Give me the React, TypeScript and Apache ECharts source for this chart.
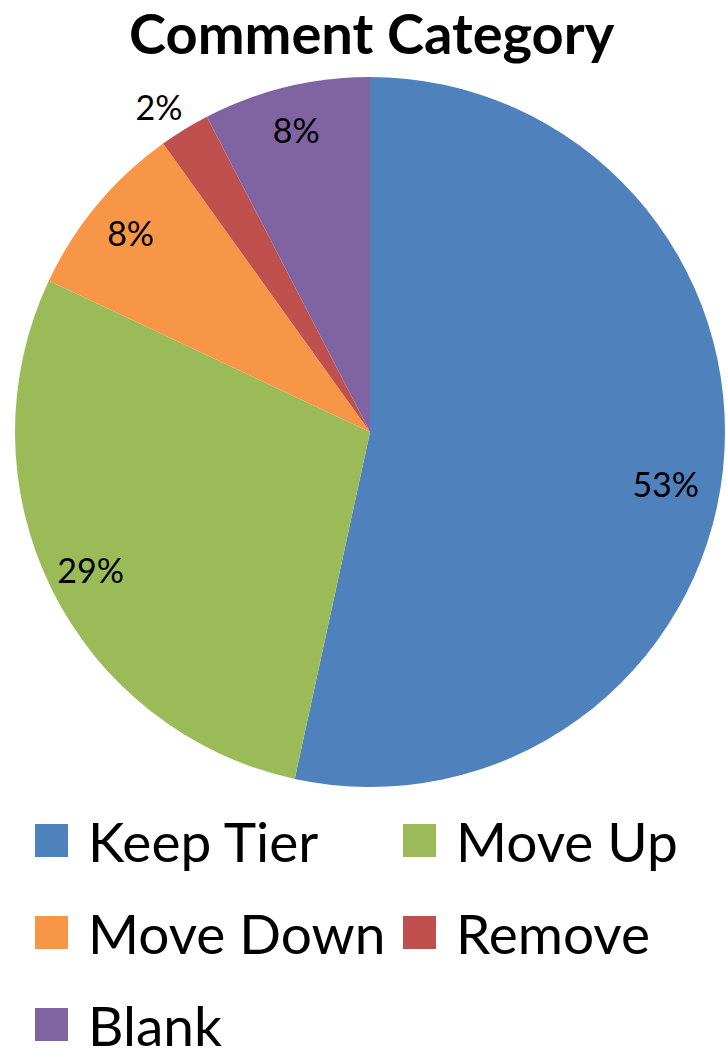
import React, { useEffect, useRef } from "react";
import * as echarts from "echarts";

const categories = ["Keep Tier", "Move Up", "Move Down", "Remove", "Blank"];
const shares = [53.4, 28.6, 8.1, 2.3, 7.6];
const colors = ["#4F81BD", "#9BBB59", "#F79646", "#C0504D", "#8064A2"];
const legendLeft = ["Keep Tier", "Move Down", "Blank"];
const legendRight = ["Move Up", "Remove"];
const outsideLabels = ["Remove"];

const FONT = "Lato";

export default function App() {
  const ref = useRef<HTMLDivElement>(null);
  useEffect(() => {
    document.body.style.margin = "0";
    const chart = echarts.init(ref.current!, null, { renderer: "svg" });
    const mainData = categories.map((name, i) => ({
      name,
      value: shares[i],
      itemStyle: { color: colors[i] },
    }));
    const labelData = categories.map((name, i) => {
      const outside = outsideLabels.includes(name);
      return {
        name,
        value: shares[i],
        label: outside
          ? { position: "outside", distanceToLabelLine: -12 }
          : { position: "inside" },
        labelLine: { show: false, length: 27, length2: 0 },
      };
    });
    const legendCommon = {
      orient: "vertical",
      top: 813,
      height: 400,
      padding: 0,
      itemWidth: 33,
      itemHeight: 33,
      itemGap: 37,
      icon: "rect",
      selectedMode: false,
      textStyle: {
        fontFamily: FONT,
        fontSize: 55,
        lineHeight: 50,
        color: "#000",
        padding: [0, 0, 0, 15],
      },
    };
    chart.setOption({
      animation: false,
      backgroundColor: "#fff",
      title: {
        text: "Comment Category",
        left: 129,
        top: 3,
        padding: 0,
        textStyle: {
          fontFamily: FONT,
          fontWeight: "bold",
          fontSize: 56,
          lineHeight: 58,
          color: "#000",
        },
      },
      legend: [
        { ...legendCommon, left: 35, data: legendLeft },
        { ...legendCommon, left: 403, data: legendRight },
      ],
      series: [
        {
          type: "pie",
          center: [370, 432],
          radius: [0, 355],
          startAngle: 90,
          clockwise: true,
          avoidLabelOverlap: false,
          label: { show: false },
          labelLine: { show: false },
          itemStyle: { borderWidth: 0 },
          emphasis: { disabled: true },
          data: mainData,
        },
        {
          type: "pie",
          center: [370, 432],
          radius: [262, 355],
          startAngle: 90,
          clockwise: true,
          silent: true,
          avoidLabelOverlap: false,
          itemStyle: { color: "rgba(0,0,0,0)", borderWidth: 0 },
          emphasis: { disabled: true },
          label: {
            show: true,
            opacity: 1,
            color: "#000",
            fontFamily: FONT,
            fontSize: 34,
            formatter: (p: any) => `${Math.round(p.value)}%`,
          },
          labelLayout: (p: any) =>
            p.dataIndex === 0 ? { dx: -14, dy: 18 } : {},
          labelLine: { show: false },
          data: labelData,
        },
      ],
    });
    return () => chart.dispose();
  }, []);
  return <div ref={ref} style={{ width: 726, height: 1052 }} />;
}
